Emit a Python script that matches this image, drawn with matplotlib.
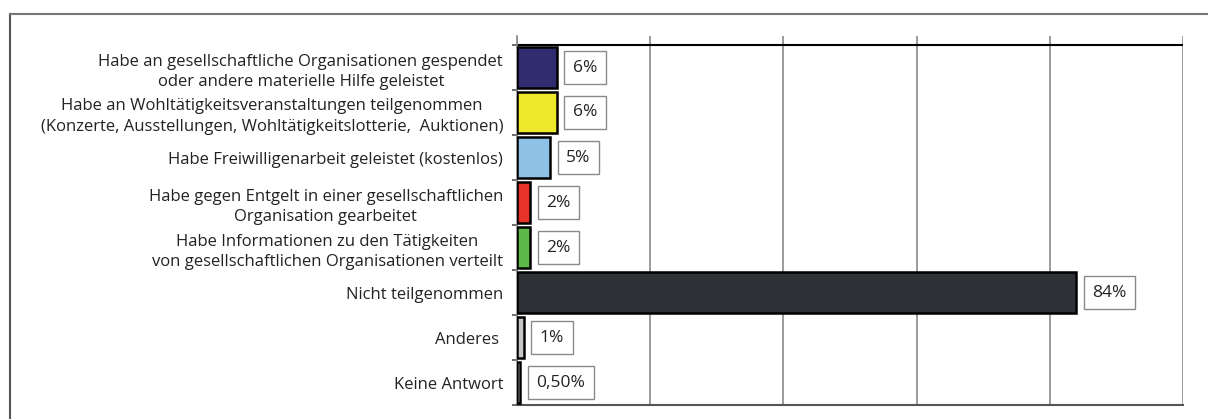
import numpy as np
import matplotlib
matplotlib.use("Agg")
import matplotlib.pyplot as plt
from matplotlib.lines import Line2D

plt.rcParams['font.family'] = ['Open Sans', 'DejaVu Sans']

categories = [
    "Habe an gesellschaftliche Organisationen gespendet\noder andere materielle Hilfe geleistet",
    "Habe an Wohltätigkeitsveranstaltungen teilgenommen\n(Konzerte, Ausstellungen, Wohltätigkeitslotterie,  Auktionen)",
    "Habe Freiwilligenarbeit geleistet (kostenlos)",
    "Habe gegen Entgelt in einer gesellschaftlichen\nOrganisation gearbeitet",
    "Habe Informationen zu den Tätigkeiten\nvon gesellschaftlichen Organisationen verteilt",
    "Nicht teilgenommen",
    "Anderes ",
    "Keine Antwort",
]
values = [6, 6, 5, 2, 2, 84, 1, 0.5]
value_labels = ["6%", "6%", "5%", "2%", "2%", "84%", "1%", "0,50%"]
colors = ["#312b6f", "#ede829", "#8fc1e7", "#e53329", "#5cb947", "#2e3135", "#c6c6c6", "#ffffff"]

W, H = 1208, 419
fig = plt.figure(figsize=(W / 100, H / 100), dpi=100)

# outer frame (runs off the right and bottom edges)
fig.add_artist(Line2D([10 / W, 10 / W], [0, 1 - 14 / H], color="#555555", lw=1.5))
fig.add_artist(Line2D([10 / W, 1], [1 - 14 / H, 1 - 14 / H], color="#777777", lw=1.5))

ax = fig.add_axes([517 / W, 1 - 405 / H, (1183 - 517) / W, (405 - 36) / H])

idx = np.arange(len(categories))
ax.barh(idx, values, height=0.9, color=colors, edgecolor="black", linewidth=1.8, zorder=3)

for i, (v, lab) in enumerate(zip(values, value_labels)):
    ax.annotate(lab, (v, i), xytext=(11.5, 0), textcoords="offset points",
                ha="left", va="center", fontsize=12.5, color="#222222",
                bbox=dict(boxstyle="square,pad=0.5", fc="white", ec="#8a8a8a", lw=1))

ax.set_xlim(0, 100)
ax.set_ylim(7.5, -0.5 - 9 / 45)
ax.set_xticks([0, 20, 40, 60, 80, 100])
ax.xaxis.grid(True, color="#8a8a8a", lw=1.2, zorder=0)
ax.tick_params(axis="x", length=0, labelbottom=False)
ax.axhline(-0.5, color="black", lw=1.5, zorder=2)

ax.set_yticks(np.arange(-0.5, 8, 1))
ax.set_yticklabels([])
ax.set_yticks(idx, minor=True)
ax.set_yticklabels(categories, minor=True, fontsize=12, color="#222222",
                   multialignment="center", linespacing=1.35)
ax.tick_params(axis="y", which="major", length=3.6, color="#555555", width=1.2)
ax.tick_params(axis="y", which="minor", length=0, pad=10)

for s in ["top", "right"]:
    ax.spines[s].set_visible(False)
ax.spines["left"].set_color("#8a8a8a")
ax.spines["left"].set_linewidth(1.2)
ax.spines["bottom"].set_color("#555555")
ax.spines["bottom"].set_linewidth(1.5)

fig.savefig("out.png", dpi=100)
